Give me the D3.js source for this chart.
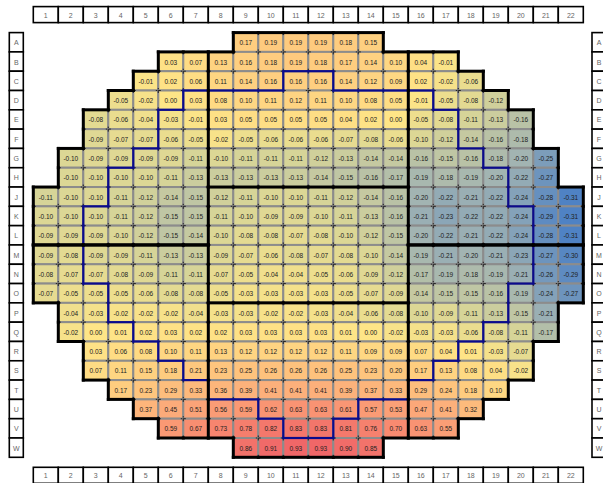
<!DOCTYPE html>
<html>
<head>
<meta charset="utf-8">
<script src="https://cdn.jsdelivr.net/npm/d3@7"></script>
<style>
  body { margin: 0; background: #fff; }
  svg { display: block; }
  text { font-family: "Liberation Sans", Arial, sans-serif; }
</style>
</head>
<body>
<svg id="chart" width="603" height="483"></svg>
<script>
const columns = d3.range(1, 23);
const rows = ["A","B","C","D","E","F","G","H","J","K","L","M","N","O","P","Q","R","S","T","U","V","W"];

// first die column of every row
const rowStart = {A:9, B:6, C:5, D:4, E:3, F:3, G:2, H:2, J:1, K:1, L:1, M:1, N:1, O:1, P:2, Q:2, R:3, S:3, T:4, U:5, V:6, W:9};

// die values, left to right from rowStart
const rowA = [0.17,0.19,0.19,0.19,0.18,0.15];
const rowB = [0.03,0.07,0.13,0.16,0.18,0.19,0.18,0.17,0.14,0.10,0.04,-0.01];
const rowC = [-0.01,0.02,0.06,0.11,0.14,0.16,0.16,0.16,0.14,0.12,0.09,0.02,-0.02,-0.06];
const rowD = [-0.05,-0.02,0.00,0.03,0.08,0.10,0.11,0.12,0.11,0.10,0.08,0.05,-0.01,-0.05,-0.08,-0.12];
const rowE = [-0.08,-0.06,-0.04,-0.03,-0.01,0.03,0.05,0.05,0.05,0.05,0.04,0.02,0.00,-0.05,-0.08,-0.11,-0.13,-0.16];
const rowF = [-0.09,-0.07,-0.07,-0.06,-0.05,-0.02,-0.05,-0.06,-0.06,-0.06,-0.07,-0.08,-0.06,-0.10,-0.12,-0.14,-0.16,-0.18];
const rowG = [-0.10,-0.09,-0.09,-0.09,-0.09,-0.11,-0.10,-0.11,-0.11,-0.11,-0.12,-0.13,-0.14,-0.14,-0.16,-0.15,-0.16,-0.18,-0.20,-0.25];
const rowH = [-0.10,-0.10,-0.10,-0.10,-0.11,-0.13,-0.13,-0.13,-0.13,-0.13,-0.14,-0.15,-0.16,-0.17,-0.19,-0.18,-0.19,-0.20,-0.22,-0.27];
const rowJ = [-0.11,-0.10,-0.10,-0.11,-0.12,-0.14,-0.15,-0.12,-0.11,-0.10,-0.10,-0.11,-0.12,-0.14,-0.16,-0.20,-0.22,-0.21,-0.22,-0.24,-0.28,-0.31];
const rowK = [-0.10,-0.10,-0.10,-0.11,-0.12,-0.15,-0.15,-0.11,-0.10,-0.09,-0.09,-0.10,-0.11,-0.13,-0.16,-0.21,-0.23,-0.22,-0.22,-0.24,-0.29,-0.31];
const rowL = [-0.09,-0.09,-0.09,-0.10,-0.12,-0.15,-0.14,-0.10,-0.08,-0.08,-0.07,-0.08,-0.10,-0.12,-0.15,-0.20,-0.22,-0.21,-0.22,-0.24,-0.28,-0.31];
const rowM = [-0.09,-0.08,-0.09,-0.09,-0.11,-0.13,-0.13,-0.09,-0.07,-0.06,-0.08,-0.07,-0.08,-0.10,-0.14,-0.19,-0.21,-0.20,-0.21,-0.23,-0.27,-0.30];
const rowN = [-0.08,-0.07,-0.07,-0.08,-0.09,-0.11,-0.11,-0.07,-0.05,-0.04,-0.04,-0.05,-0.06,-0.09,-0.12,-0.17,-0.19,-0.18,-0.19,-0.21,-0.26,-0.29];
const rowO = [-0.07,-0.05,-0.05,-0.05,-0.06,-0.08,-0.08,-0.05,-0.03,-0.03,-0.03,-0.03,-0.05,-0.07,-0.09,-0.14,-0.15,-0.15,-0.16,-0.19,-0.24,-0.27];
const rowP = [-0.04,-0.03,-0.02,-0.02,-0.02,-0.04,-0.03,-0.03,-0.02,-0.02,-0.03,-0.04,-0.06,-0.08,-0.10,-0.09,-0.11,-0.13,-0.15,-0.21];
const rowQ = [-0.02,0.00,0.01,0.02,0.03,0.02,0.02,0.03,0.03,0.03,0.03,0.01,0.00,-0.02,-0.03,-0.03,-0.06,-0.08,-0.11,-0.17];
const rowR = [0.03,0.06,0.08,0.10,0.11,0.13,0.12,0.12,0.12,0.12,0.11,0.09,0.09,0.07,0.04,0.01,-0.03,-0.07];
const rowS = [0.07,0.11,0.15,0.18,0.21,0.23,0.25,0.26,0.26,0.26,0.25,0.23,0.20,0.17,0.13,0.08,0.04,-0.02];
const rowT = [0.17,0.23,0.29,0.33,0.36,0.39,0.41,0.41,0.41,0.39,0.37,0.33,0.29,0.24,0.18,0.10];
const rowU = [0.37,0.45,0.51,0.56,0.59,0.62,0.63,0.63,0.61,0.57,0.53,0.47,0.41,0.32];
const rowV = [0.59,0.67,0.73,0.78,0.82,0.83,0.83,0.81,0.76,0.70,0.63,0.55];
const rowW = [0.86,0.91,0.93,0.93,0.90,0.85];

const rowValues = {A:rowA, B:rowB, C:rowC, D:rowD, E:rowE, F:rowF, G:rowG, H:rowH, J:rowJ, K:rowK, L:rowL,
  M:rowM, N:rowN, O:rowO, P:rowP, Q:rowQ, R:rowR, S:rowS, T:rowT, U:rowU, V:rowV, W:rowW};

// inner ring (blue outline): first and last column per row
const innerRing = {C:[11,12], D:[7,16], E:[6,17], F:[6,17], G:[5,18], H:[4,19], J:[4,19], K:[3,20], L:[3,20],
  M:[3,20], N:[3,20], O:[4,19], P:[4,19], Q:[5,18], R:[6,17], S:[7,16], T:[8,15], U:[10,13], V:[11,12]};

const svg = d3.select("#chart");
const x = d3.scaleBand().domain(columns).range([33.3, 583.3]);
const y = d3.scaleBand().domain(rows).range([32.6, 457.3]);

const color = d3.scaleLinear()
  .domain([-0.31, -0.2, -0.1, 0, 0.2, 0.45, 0.7, 0.93])
  .range(["#4f82c4", "#a2b4b2", "#dcd795", "#fee587", "#fec97e", "#fcab7a", "#f88a70", "#f06768"])
  .clamp(true);

const cells = [];
rows.forEach(r => rowValues[r].forEach((v, i) => cells.push({row: r, col: rowStart[r] + i, value: v})));
const byKey = new Map(cells.map(d => [d.row + d.col, d]));
const rowIdx = r => rows.indexOf(r);
const cellAt = (ri, c) => (ri < 0 || ri >= rows.length) ? null : (byKey.get(rows[ri] + c) || null);

const zone = d => {
  const ri = rowIdx(d.row);
  if (d.col <= 7) return ri <= rowIdx("L") ? "LT" : "LB";
  if (d.col >= 16) return ri <= rowIdx("L") ? "RT" : "RB";
  return ri <= rowIdx("H") ? "CT" : (ri <= rowIdx("O") ? "CC" : "CB");
};
const inRing = d => {
  const r = d && innerRing[d.row];
  return !!r && d.col >= r[0] && d.col <= r[1];
};

// edges between a cell and a neighbour for which test() holds
const boundary = test => {
  const seen = new Map();
  cells.forEach(d => {
    const ri = rowIdx(d.row), x0 = x(d.col), x1 = x0 + x.bandwidth(), y0 = y(d.row), y1 = y0 + y.bandwidth();
    [[cellAt(ri - 1, d.col), [x0, y0, x1, y0]],
     [cellAt(ri + 1, d.col), [x0, y1, x1, y1]],
     [cellAt(ri, d.col - 1), [x0, y0, x0, y1]],
     [cellAt(ri, d.col + 1), [x1, y0, x1, y1]]].forEach(([n, s]) => {
      if (test(d, n)) seen.set(s.map(v => v.toFixed(1)).join(","), s);
    });
  });
  return Array.from(seen.values());
};

const drawSegments = (segs, stroke, width) => {
  svg.append("g").selectAll("line").data(segs).join("line")
    .attr("x1", s => s[0]).attr("y1", s => s[1]).attr("x2", s => s[2]).attr("y2", s => s[3])
    .attr("stroke", stroke).attr("stroke-width", width).attr("stroke-linecap", "square");
};

// cells
const bw = x.bandwidth(), bh = y.bandwidth();
const cellG = svg.append("g").selectAll("g").data(cells).join("g")
  .attr("transform", d => `translate(${x(d.col)},${y(d.row)})`);
cellG.append("rect")
  .attr("width", bw).attr("height", bh)
  .attr("fill", d => color(d.value))
  .attr("stroke", "#8c8c8c").attr("stroke-width", 2);
cellG.append("rect")
  .attr("width", bw).attr("height", bh)
  .attr("fill", "none").attr("stroke", "#222").attr("stroke-width", 1)
  .attr("stroke-dasharray", [2.5, bw - 5, 5, bh - 5, 5, bw - 5, 5, bh - 5, 2.5].join(","));
cellG.append("text")
  .attr("x", bw / 2).attr("y", bh / 2 + 0.5)
  .attr("text-anchor", "middle").attr("dominant-baseline", "central")
  .attr("font-size", 6.5).attr("fill", "#222")
  .text(d => d.value.toFixed(2));

// ring, zone lines, wafer edge
drawSegments(boundary((a, b) => inRing(a) !== inRing(b)), "#0a0a8c", 2.2);
drawSegments(boundary((a, b) => b && zone(a) !== zone(b)), "#000", 3);
drawSegments(boundary((a, b) => !b), "#000", 3);

// column labels (top and bottom)
[[6.6, 22.6], [467.3, 483.3]].forEach(([t, b]) => {
  const g = svg.append("g").selectAll("g").data(columns).join("g")
    .attr("transform", c => `translate(${x(c)},${t})`);
  g.append("rect").attr("width", bw).attr("height", b - t)
    .attr("fill", "#fff").attr("stroke", "#000").attr("stroke-width", 1.6);
  g.append("text").attr("x", bw / 2).attr("y", (b - t) / 2 + 0.5)
    .attr("text-anchor", "middle").attr("dominant-baseline", "central")
    .attr("font-size", 7).attr("fill", "#666").text(c => c);
});

// row labels (left and right)
[9.3, 592].forEach(l => {
  const g = svg.append("g").selectAll("g").data(rows).join("g")
    .attr("transform", r => `translate(${l},${y(r)})`);
  g.append("rect").attr("width", 14).attr("height", bh)
    .attr("fill", "#fff").attr("stroke", "#000").attr("stroke-width", 1.6);
  g.append("text").attr("x", 7).attr("y", bh / 2 + 0.5)
    .attr("text-anchor", "middle").attr("dominant-baseline", "central")
    .attr("font-size", 7).attr("fill", "#666").text(r => r);
});
</script>
</body>
</html>
